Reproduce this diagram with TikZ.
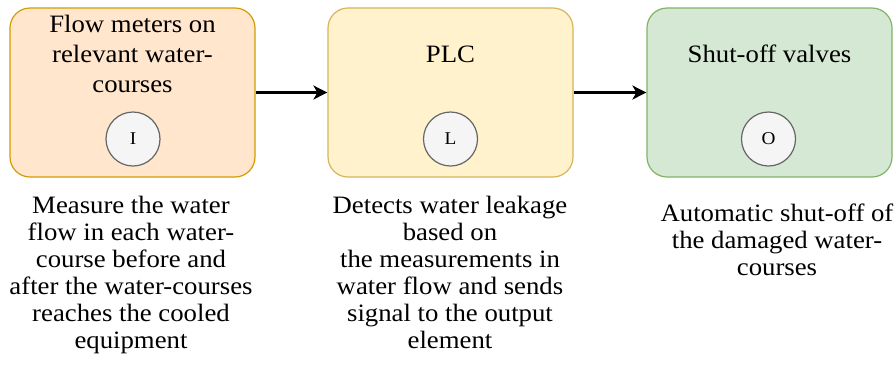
\documentclass[tikz,border=0pt]{standalone}
\usepackage{fontspec}
\setmainfont{Liberation Serif}[FakeStretch=1.07]
\usetikzlibrary{arrows.meta}
\definecolor{orfill}{HTML}{FFE6CC}
\definecolor{ordraw}{HTML}{D79B00}
\definecolor{yefill}{HTML}{FFF2CC}
\definecolor{yedraw}{HTML}{D6B656}
\definecolor{grfill}{HTML}{D5E8D4}
\definecolor{grdraw}{HTML}{82B366}
\definecolor{cifill}{HTML}{F5F5F5}
\definecolor{cidraw}{HTML}{666666}
\tikzset{
  box/.style={rounded corners=20pt, line width=1.2pt, minimum width=245pt, minimum height=169pt, inner sep=0pt},
  letter/.style={circle, draw=cidraw, fill=cifill, line width=1.2pt, minimum size=54pt, inner sep=0pt, font=\fontsize{18}{20}\selectfont},
  title/.style={anchor=north, align=center, inner sep=0pt, font=\fontsize{25}{30}\selectfont},
  desc/.style={anchor=north, align=center, inner sep=0pt, font=\fontsize{25}{27}\selectfont},
  flow/.style={line width=2.2pt, -{Stealth[length=14pt,width=14pt,inset=4pt]}}
}
\begin{document}
\begin{tikzpicture}[x=1pt,y=-1pt]
\fill[white] (0,0) rectangle (894,368);
\useasboundingbox (0,0) rectangle (894,368);
\node[box, fill=orfill, draw=ordraw] (b1) at (132.5,92.5) {};
\node[box, fill=yefill, draw=yedraw] (b2) at (450.5,92.5) {};
\node[box, fill=grfill, draw=grdraw] (b3) at (769.5,92.5) {};
\node[title] (t1) at (132.5,15) {Flow meters on\\relevant water-\\courses};
\node[title] (t2) at (450.5,45.5) {PLC};
\node[title] (t3) at (769.5,45) {Shut-off valves};
\node[letter] (c1) at (133,139) {I};
\node[letter] (c2) at (450.5,139) {L};
\node[letter] (c3) at (768.5,139) {O};
\draw[flow] (b1) -- (b2);
\draw[flow] (b2) -- (b3);
\node[desc] (d1) at (131,196) {Measure the water\\flow in each water-\\course before and\\after the water-courses\\reaches the cooled\\equipment};
\node[desc] (d2) at (450,196) {Detects water leakage\\based on\\the measurements in\\water flow and sends\\signal to the output\\element};
\node[desc] (d3) at (777,204) {Automatic shut-off of\\the damaged water-\\courses};
\end{tikzpicture}
\end{document}
